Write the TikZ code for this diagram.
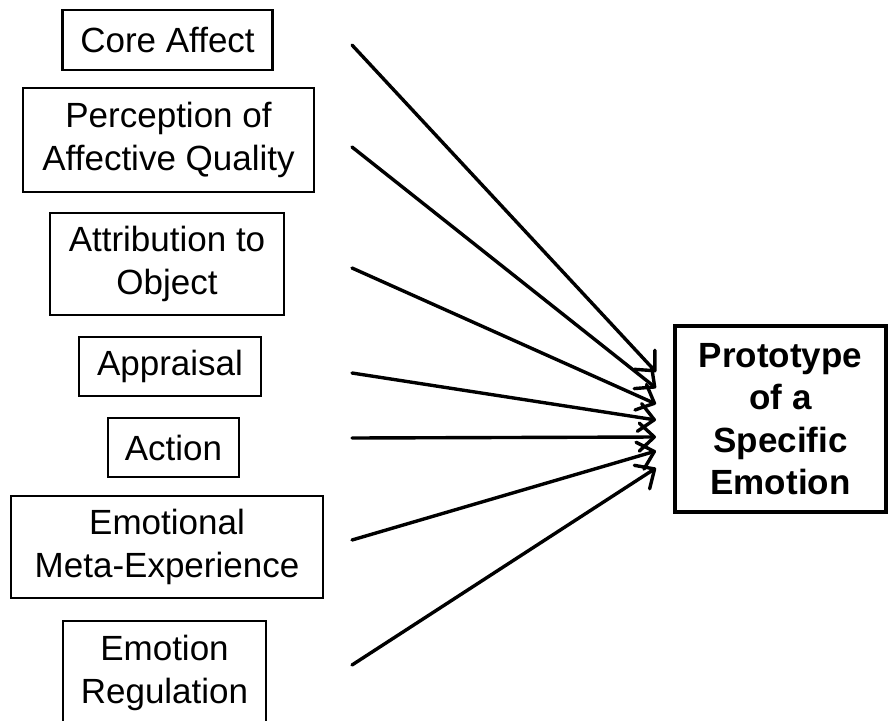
\documentclass[tikz,border=0pt]{standalone}
\usepackage{fontspec}
\setmainfont{Liberation Sans}
\usetikzlibrary{arrows.meta}
\begin{document}
\begin{tikzpicture}[x=1pt,y=-1pt,
  srcbox/.style={draw, line width=2.8pt, align=center, inner sep=0pt,
    font=\fontsize{35}{43}\selectfont},
  tgtbox/.style={draw, line width=4pt, align=center, inner sep=0pt,
    font=\bfseries\fontsize{35}{42.5}\selectfont},
  conn/.style={line width=3.4pt, line cap=round,
    -{Straight Barb[length=15pt,width=28pt,line width=3.4pt,round]}}]
\clip (0,0) rectangle (890,720);
\useasboundingbox (0,0) rectangle (890,720);
\node[srcbox, minimum width=210, minimum height=60] (ca) at (167.5,40) {Core Affect};
\node[srcbox, minimum width=291, minimum height=104] (pa) at (168.5,140) {Perception of\\Affective Quality};
\node[srcbox, minimum width=234, minimum height=102] (ao) at (167,264) {Attribution to\\Object};
\node[srcbox, minimum width=182, minimum height=59] (ap) at (170,366.5) {Appraisal};
\node[srcbox, minimum width=131, minimum height=59] (ac) at (173.5,447.5) {Action};
\node[srcbox, minimum width=312, minimum height=102] (em) at (167,547) {Emotional\\Meta-Experience};
\node[srcbox, minimum width=203, minimum height=104] (er) at (164.5,673) {Emotion\\Regulation};
\node[tgtbox, minimum width=211, minimum height=186] (pr) at (780.5,419) {Prototype\\of a\\Specific\\Emotion};
\coordinate (s1) at (352,45);
\coordinate (s2) at (352,147);
\coordinate (s3) at (352,268);
\coordinate (s4) at (352,373);
\coordinate (s5) at (352,438);
\coordinate (s6) at (352,540);
\coordinate (s7) at (352,665);
\coordinate (t1) at (656,372);
\coordinate (t2) at (656,388);
\coordinate (t3) at (656,404);
\coordinate (t4) at (656,420);
\coordinate (t5) at (656,437);
\coordinate (t6) at (656,451);
\coordinate (t7) at (656,468);
\foreach \i in {1,...,7} {\draw[conn] (s\i) -- (t\i);}
\end{tikzpicture}
\end{document}
